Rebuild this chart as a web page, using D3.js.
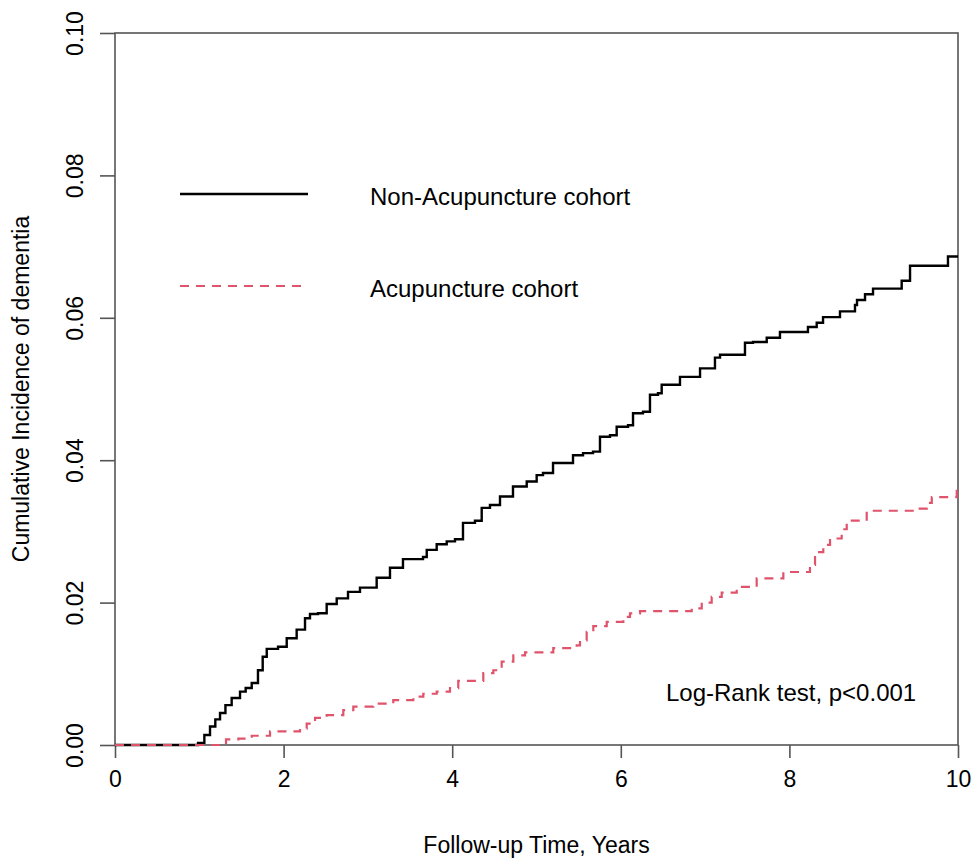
<!DOCTYPE html>
<html>
<head>
<meta charset="utf-8">
<script src="https://cdn.jsdelivr.net/npm/d3@7"></script>
<style>
  body { margin: 0; background: #fff; }
  text { font-family: "Liberation Sans", Arial, sans-serif; fill: #000; }
</style>
</head>
<body>
<div id="chart"></div>
<script>
// svg size
var svgWidth = 973;
var svgHeight = 859;

// plot box (R style)
var margin = { top: 33, right: 15, bottom: 114, left: 115 };
var width = svgWidth - margin.left - margin.right;
var height = svgHeight - margin.top - margin.bottom;

// data: [years, cumulative incidence]
var nonAcuTimes = [0, 0.985, 1.06, 1.127, 1.19, 1.246, 1.31, 1.384, 1.483, 1.55, 1.622, 1.696, 1.752, 1.800, 1.934, 2.037, 2.155, 2.254, 2.313, 2.408,
  2.511, 2.630, 2.764, 2.906, 3.104, 3.262, 3.416, 3.654, 3.698, 3.816, 3.935, 4.033, 4.128, 4.270, 4.350, 4.448,
  4.567, 4.721, 4.884, 5.002, 5.077, 5.196, 5.433, 5.552, 5.670, 5.753, 5.872, 5.951, 6.086, 6.145, 6.263, 6.346,
  6.441, 6.485, 6.702, 6.940, 7.117, 7.177, 7.473, 7.568, 7.731, 7.888, 8.220, 8.324, 8.399, 8.600, 8.778, 8.802,
  8.897, 8.992, 9.332, 9.431, 9.881, 10];
var nonAcuValues = [0, 0.0003, 0.0014, 0.0026, 0.0036, 0.0045, 0.0056, 0.0066, 0.0075, 0.0080, 0.0087, 0.0105, 0.0124, 0.0135, 0.0138, 0.0150, 0.0162, 0.0178, 0.0184, 0.0185,
  0.0198, 0.0206, 0.0215, 0.0221, 0.0235, 0.0249, 0.0261, 0.0264, 0.0274, 0.0282, 0.0286, 0.0289, 0.0312, 0.0315, 0.0333, 0.0337,
  0.0349, 0.0363, 0.0370, 0.0379, 0.0382, 0.0396, 0.0407, 0.0410, 0.0412, 0.0433, 0.0435, 0.0447, 0.0449, 0.0466, 0.0468, 0.0492,
  0.0494, 0.0506, 0.0517, 0.0529, 0.0544, 0.0548, 0.0565, 0.0566, 0.0572, 0.0580, 0.0587, 0.0593, 0.0601, 0.0609, 0.0618, 0.0625,
  0.0633, 0.0641, 0.0652, 0.0673, 0.0686, 0.0686];

var acuTimes = [0, 1.317, 1.463, 1.622, 1.839, 2.195, 2.274, 2.373, 2.511, 2.708, 2.827, 3.064, 3.301, 3.539, 3.657, 3.816,
  3.974, 4.072, 4.369, 4.488, 4.587, 4.725, 4.864, 5.199, 5.477, 5.516, 5.595, 5.674, 5.833, 6.030, 6.109, 6.228,
  6.841, 6.960, 7.078, 7.197, 7.375, 7.612, 7.928, 8.244, 8.304, 8.402, 8.482, 8.620, 8.680, 8.917, 9.510, 9.629,
  9.689, 9.985, 10];
var acuValues = [0, 0.0008, 0.0009, 0.0013, 0.0019, 0.0023, 0.0030, 0.0038, 0.0042, 0.0049, 0.0054, 0.0058, 0.0063, 0.0068, 0.0072, 0.0075,
  0.0080, 0.0090, 0.0101, 0.0105, 0.0117, 0.0126, 0.0130, 0.0136, 0.0140, 0.0147, 0.0159, 0.0167, 0.0173, 0.0180, 0.0185, 0.0188,
  0.0192, 0.0200, 0.0208, 0.0214, 0.0222, 0.0234, 0.0243, 0.0253, 0.0271, 0.0281, 0.0290, 0.0303, 0.0315, 0.0329, 0.0332, 0.0340,
  0.0348, 0.0357, 0.0357];

var xTicks = [0, 2, 4, 6, 8, 10];
var yTicks = [0, 0.02, 0.04, 0.06, 0.08, 0.10];
var seriesNames = ["Non-Acupuncture cohort", "Acupuncture cohort"];
var seriesColors = ["#000000", "#DF536B"];

var svg = d3.select("#chart")
  .append("svg")
  .attr("width", svgWidth)
  .attr("height", svgHeight);

var chartGroup = svg.append("g")
  .attr("transform", `translate(${margin.left}, ${margin.top})`);

var xScale = d3.scaleLinear().domain([0, 10]).range([0, width]);
var yScale = d3.scaleLinear().domain([0, 0.10]).range([height, 0]);

// axes, R look: outward ticks, grey lines
var bottomAxis = d3.axisBottom(xScale)
  .tickValues(xTicks)
  .tickSize(13)
  .tickPadding(13)
  .tickFormat(d3.format("d"));
var leftAxis = d3.axisLeft(yScale)
  .tickValues(yTicks)
  .tickSize(15)
  .tickFormat(d3.format(".2f"));

var xAxis = chartGroup.append("g")
  .attr("transform", `translate(0, ${height})`)
  .call(bottomAxis);
xAxis.select(".domain").remove();
xAxis.selectAll("text")
  .attr("font-size", 23)
  .attr("font-family", "Liberation Sans, Arial, sans-serif");

var yAxis = chartGroup.append("g")
  .call(leftAxis);
yAxis.select(".domain").remove();
yAxis.selectAll("text")
  .attr("font-size", 23)
  .attr("font-family", "Liberation Sans, Arial, sans-serif")
  .attr("text-anchor", "middle")
  .attr("x", 0)
  .attr("dy", 0)
  .attr("transform", "translate(-32, 0) rotate(-90)");

svg.selectAll(".tick line")
  .attr("stroke", "#555")
  .attr("stroke-width", 1.6);

// box
chartGroup.append("rect")
  .attr("x", 0)
  .attr("y", 0)
  .attr("width", width)
  .attr("height", height)
  .attr("fill", "none")
  .attr("stroke", "#555")
  .attr("stroke-width", 1.6);

// step curves
var line = d3.line()
  .x(d => xScale(d[0]))
  .y(d => yScale(d[1]))
  .curve(d3.curveStepAfter);

var acuData = d3.zip(acuTimes, acuValues);
var nonAcuData = d3.zip(nonAcuTimes, nonAcuValues);

chartGroup.append("path")
  .datum(nonAcuData)
  .attr("d", line)
  .attr("fill", "none")
  .attr("stroke", seriesColors[0])
  .attr("stroke-width", 2.4);

chartGroup.append("path")
  .datum(acuData)
  .attr("d", line)
  .attr("fill", "none")
  .attr("stroke", seriesColors[1])
  .attr("stroke-width", 2.2)
  .attr("stroke-dasharray", "9,7");

// legend
var legendY = [194, 286];
var legendEnd = [308, 302];
seriesNames.forEach(function(name, i) {
  svg.append("line")
    .attr("x1", 180)
    .attr("x2", legendEnd[i])
    .attr("y1", legendY[i])
    .attr("y2", legendY[i])
    .attr("stroke", seriesColors[i])
    .attr("stroke-width", i === 0 ? 2.4 : 2.2)
    .attr("stroke-dasharray", i === 0 ? null : "9,7");
  svg.append("text")
    .attr("x", 370)
    .attr("y", legendY[i] + 11)
    .attr("font-size", 24)
    .text(name);
});

// annotation
svg.append("text")
  .attr("x", 666)
  .attr("y", 701)
  .attr("font-size", 24)
  .text("Log-Rank test, p<0.001");

// axis titles
svg.append("text")
  .attr("x", margin.left + width / 2)
  .attr("y", 853)
  .attr("text-anchor", "middle")
  .attr("font-size", 23)
  .text("Follow-up Time, Years");

svg.append("text")
  .attr("transform", `translate(29, ${margin.top + height / 2}) rotate(-90)`)
  .attr("text-anchor", "middle")
  .attr("font-size", 23)
  .text("Cumulative Incidence of dementia");
</script>
</body>
</html>
